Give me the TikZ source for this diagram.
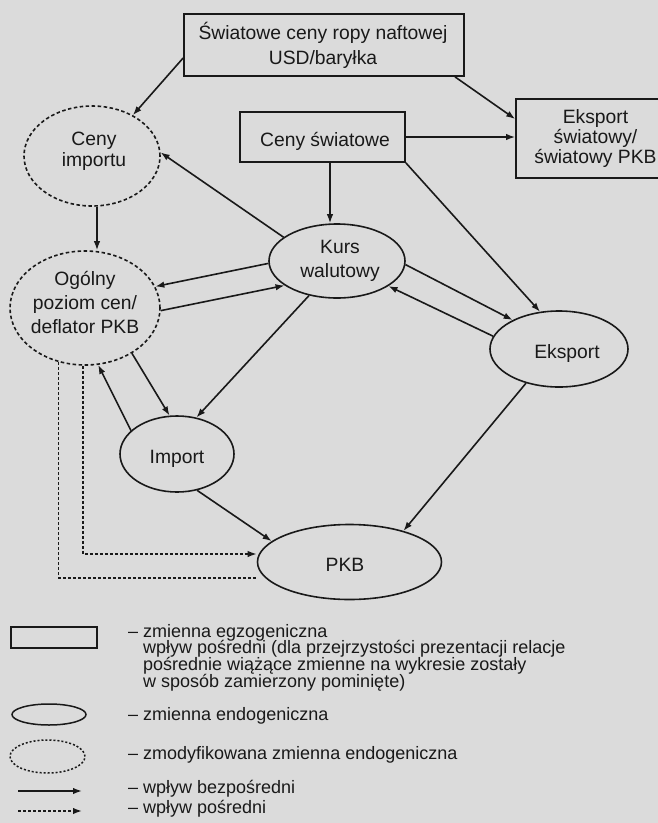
\documentclass[tikz,border=0pt]{standalone}
\usepackage{fontspec}
\setmainfont{Liberation Sans}
\usetikzlibrary{arrows.meta,shapes.geometric}
\definecolor{bgc}{RGB}{219,219,219}
\definecolor{ink}{RGB}{25,25,25}
\begin{document}
\begin{tikzpicture}[x=1pt,y=-1pt,
  exo/.style={draw=ink, line width=1.7pt, rectangle, inner sep=0pt},
  endo/.style={draw=ink, line width=1.6pt, ellipse, inner sep=0pt},
  modi/.style={endo, dash pattern=on 3.5pt off 2.5pt},
  lab/.style={text=ink, font=\fontsize{19.3}{#1}\selectfont, align=center, inner sep=0pt},
  arr/.style={draw=ink, line width=1.6pt, -{Latex[length=9pt,width=6.5pt]}},
  darr/.style={arr, dash pattern=on 3pt off 2pt},
  dline/.style={draw=ink, line width=1.6pt, dash pattern=on 3pt off 2pt},
  leg/.style={text=ink, font=\fontsize{18}{18}\selectfont, inner sep=0pt, anchor=base west}]
\useasboundingbox (0,0) rectangle (658,823);
\fill[bgc] (0,0) rectangle (658,823);
\clip (0,0) rectangle (658,823);

% exogenous boxes
\node[exo, minimum width=280pt, minimum height=62pt] (ropa) at (324,45) {};
\node[lab=25.7] (ropaT) at (323,45.3) {Światowe ceny ropy naftowej\\USD/baryłka};
\node[exo, minimum width=160pt, minimum height=79pt] (eksw) at (596,138.5) {};
\node[lab=20] (ekswT) at (595.5,138.7) {Eksport\\światowy/\\światowy PKB};
\node[exo, minimum width=165pt, minimum height=50pt] (cenysw) at (322.5,137) {};
\node[lab=20] (cenyswT) at (325,141) {Ceny światowe};

% modified endogenous
\node[modi, minimum width=136pt, minimum height=100pt] (cenyimp) at (92,156) {};
\node[lab=20.5] (cenyimpT) at (94,151.2) {Ceny\\importu};
\node[modi, minimum width=150pt, minimum height=114pt] (ogolny) at (85,308) {};
\node[lab=24] (ogolnyT) at (85,302) {Ogólny\\poziom cen/\\deflator PKB};

% endogenous
\node[endo, minimum width=136pt, minimum height=74pt] (kurs) at (337,261) {};
\node[lab=23.4] (kursT) at (340,260.8) {Kurs\\walutowy};
\node[endo, minimum width=138pt, minimum height=76pt] (eksport) at (559,349) {};
\node[lab=20] (eksportT) at (567,353.5) {Eksport};
\node[endo, minimum width=114pt, minimum height=76pt] (import) at (177,454) {};
\node[lab=20] (importT) at (177,458.5) {Import};
\node[endo, minimum width=184pt, minimum height=75pt] (pkb) at (349.5,562) {};
\node[lab=20] (pkbT) at (345,565) {PKB};

% connectors
\draw[arr] ([yshift=-13pt]ropa.west) -- (cenyimp.45);
\draw[arr] ([xshift=131pt]ropa.south) -- ([yshift=19.5pt]eksw.west);
\draw[arr] (cenysw.east) -- (cenysw.east -| eksw.west);
\draw[arr] ([xshift=7.5pt]cenysw.south) -- ([xshift=7.5pt]cenysw.south |- kurs.north);
\draw[arr] (cenysw.south east) -- (eksport.117);
\draw[arr] (kurs.156) -- (cenyimp.3);
\draw[arr] ([xshift=5pt]cenyimp.south) -- ([xshift=5pt]cenyimp.south |- ogolny.north);
\draw[arr] (kurs.182) -- (ogolny.17);
\draw[arr] (ogolny.358) -- (kurs.205);
\draw[arr] (kurs.231) -- (import.62);
\draw[arr] (ogolny.316) -- (import.101);
\draw[arr] (import.153) -- (ogolny.283);
\draw[arr] (import.299) -- (pkb.165);
\draw[arr] (kurs.357) -- (eksport.148);
\draw[arr] (eksport.169) -- (kurs.334);
\draw[arr] (eksport.226) -- (pkb.30);
\draw[darr] ([xshift=-2pt]ogolny.south) |- ([yshift=8pt]pkb.west);
\draw[dline] (ogolny.244) |- ([yshift=-16pt]pkb.west);

% legend
\node[exo, line width=1.5pt, minimum width=86pt, minimum height=21pt] (legR) at (54,637.5) {};
\node[endo, line width=1.5pt, minimum width=74pt, minimum height=21pt] (legE) at (49,714.5) {};
\node[endo, line width=1.5pt, dash pattern=on 2pt off 2pt, minimum width=75pt, minimum height=33pt] (legM) at (47.5,756.5) {};
\coordinate (legA1) at (18,791);
\coordinate (legA2) at (82,791);
\coordinate (legB1) at (18,811);
\coordinate (legB2) at (82,811);
\draw[arr] (legA1) -- (legA2);
\draw[darr] (legB1) -- (legB2);
\node[leg] (t1) at (128,637) {\vtop{\baselineskip=16.7pt\lineskiplimit=-30pt\lineskip=0pt
  \hbox{– zmienna egzogeniczna}
  \hbox{\hskip15pt wpływ pośredni (dla przejrzystości prezentacji relacje}
  \hbox{\hskip15pt pośrednie wiążące zmienne na wykresie zostały}
  \hbox{\hskip15pt w sposób zamierzony pominięte)}}};
\node[leg] (t5) at (128,720) {– zmienna endogeniczna};
\node[leg] (t6) at (128,759) {– zmodyfikowana zmienna endogeniczna};
\node[leg] (t7) at (128,793) {– wpływ bezpośredni};
\node[leg] (t8) at (128,813) {– wpływ pośredni};
\end{tikzpicture}
\end{document}
